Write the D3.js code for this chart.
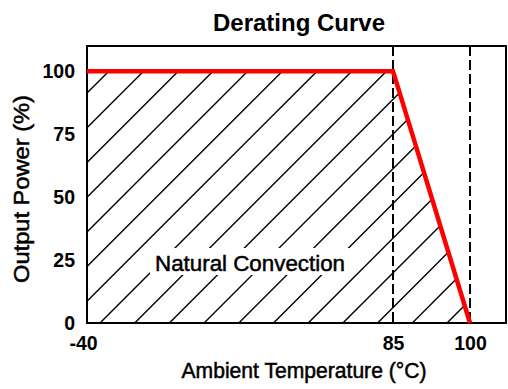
<!DOCTYPE html>
<html><head><meta charset="utf-8">
<script src="https://cdn.jsdelivr.net/npm/d3@7"></script>
<style>
html,body{margin:0;padding:0;background:#fff;}
text{font-family:"Liberation Sans",Arial,sans-serif;fill:#000;}
</style></head>
<body>
<svg id="c" width="508" height="389"></svg>
<script>
// Data
const temps = [-40, 85, 100];
const power = [100, 100, 0];
const xTicks = [-40, 85, 100];
const yTicks = [0, 25, 50, 75, 100];
const dashedAt = [85, 100];
const title = "Derating Curve";
const xTitle = "Ambient Temperature (°C)";
const yTitle = "Output Power (%)";
const regionLabel = "Natural Convection";

const svg = d3.select("#c");
const L = 87, R = 506, T = 46, B = 323;
const x = d3.scaleLinear().domain([-40, 85, 100, 107]).range([L, 393, 470, R]);
const y = d3.scaleLinear().domain([0, 110]).range([B, T]);

// clip for hatch: area under curve
const pts = temps.map((t, i) => [x(t), y(power[i])]);
const poly = [[x(temps[0]), y(0)], ...pts];
svg.append("clipPath").attr("id", "under")
  .append("polygon").attr("points", poly.map(p => p.join(",")).join(" "));

const hatch = svg.append("g").attr("clip-path", "url(#under)");
const step = 34.7, H = B - T + 20;
for (let k = -12; k < 20; k++) {
  const x0 = 100 + k * step;
  hatch.append("line")
    .attr("x1", x0).attr("y1", B).attr("x2", x0 + H).attr("y2", B - H)
    .attr("stroke", "#000").attr("stroke-width", 1.4);
}

// label box
svg.append("rect").attr("x", 150).attr("y", 248).attr("width", 199).attr("height", 27).attr("fill", "#fff");
svg.append("text").attr("x", 250).attr("y", 271).attr("text-anchor", "middle")
  .attr("font-size", 22.5).attr("stroke", "#000").attr("stroke-width", 0.5)
  .attr("textLength", 190).attr("lengthAdjust", "spacingAndGlyphs").text(regionLabel);

// dashed verticals
svg.selectAll("line.dash").data(dashedAt).enter().append("line")
  .attr("x1", d => x(d)).attr("x2", d => x(d)).attr("y1", T).attr("y2", B)
  .attr("stroke", "#000").attr("stroke-width", 2).attr("stroke-dasharray", "10,4");

// frame
svg.append("rect").attr("x", L).attr("y", T).attr("width", R - L).attr("height", B - T)
  .attr("fill", "none").attr("stroke", "#000").attr("stroke-width", 2);

// curve
svg.append("path").datum(temps.map((t, i) => [t, power[i]]))
  .attr("d", d3.line().x(d => x(d[0])).y(d => y(d[1])))
  .attr("fill", "none").attr("stroke", "#ff0000").attr("stroke-width", 4.5);

// axes
const yAxis = svg.append("g").attr("transform", `translate(${L},0)`)
  .call(d3.axisLeft(y).tickValues(yTicks).tickSize(0).tickPadding(12).tickFormat(d => String(d)));
yAxis.select(".domain").remove();
yAxis.selectAll("text").attr("font-size", 19.5).attr("font-family", null).attr("font-weight", "bold");

const xAxis = svg.append("g").attr("transform", `translate(0,${B})`)
  .call(d3.axisBottom(x).tickValues(xTicks).tickSize(0).tickPadding(13).tickFormat(d => String(d)));
xAxis.select(".domain").remove();
xAxis.selectAll("text").attr("font-size", 19.5).attr("font-family", null).attr("font-weight", "bold")
  .attr("dx", d => d === -40 ? -4 : 0);

// titles
svg.append("text").attr("x", 299).attr("y", 31).attr("text-anchor", "middle")
  .attr("font-size", 23.5).attr("font-weight", "bold")
  .attr("textLength", 172).attr("lengthAdjust", "spacingAndGlyphs").text(title);
svg.append("text").attr("x", 304).attr("y", 378).attr("text-anchor", "middle")
  .attr("font-size", 21.5).attr("stroke", "#000").attr("stroke-width", 0.5)
  .attr("textLength", 245).attr("lengthAdjust", "spacingAndGlyphs").text(xTitle);
svg.append("text").attr("transform", "translate(29,189) rotate(-90)").attr("text-anchor", "middle")
  .attr("font-size", 22).attr("stroke", "#000").attr("stroke-width", 0.5)
  .attr("textLength", 188).attr("lengthAdjust", "spacingAndGlyphs").text(yTitle);
</script>
</body></html>
